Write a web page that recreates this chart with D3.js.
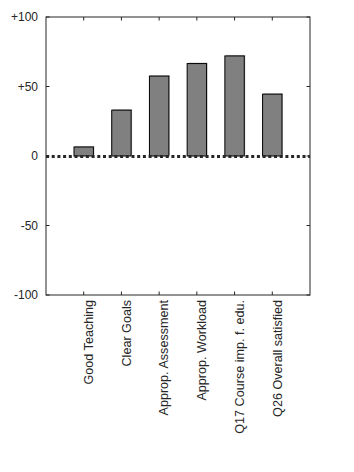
<!DOCTYPE html>
<html>
<head>
<meta charset="utf-8">
<script src="https://cdn.jsdelivr.net/npm/d3@7"></script>
<style>
  body { margin: 0; background: #fff; }
  svg text { font-family: "Liberation Sans", Arial, sans-serif; fill: #262626; }
</style>
</head>
<body>
<svg id="chart" width="354" height="472"></svg>
<script>
// Data
var categories = ["Good Teaching", "Clear Goals", "Approp. Assessment", "Approp. Workload", "Q17 Course imp. f. edu.", "Q26 Overall satisfied"]
var values = [6.5, 33, 57.5, 66.5, 72, 44.5]
var yTicks = [-100, -50, 0, 50, 100]
var yTickLabels = ["-100", "-50", "0", "+50", "+100"]

var svg = d3.select("#chart")
var plotLeft = 46, plotRight = 310, plotTop = 17, plotBottom = 295

// bars sit at positions 1..6 of a 0..7 axis
var x = d3.scaleLinear().domain([0, categories.length + 1]).range([plotLeft, plotRight])
var y = d3.scaleLinear().domain([-100, 100]).range([plotBottom, plotTop])
var step = x(1) - x(0)
var barW = step * 0.515

var g = svg.append("g")

// bars, with a faint light edge like the original
g.selectAll(".shade")
  .data(values)
  .enter().append("rect")
  .attr("x", (d, i) => x(i + 1) - barW / 2 + 1)
  .attr("y", d => y(d) - 1)
  .attr("width", barW)
  .attr("height", d => y(0) - y(d))
  .attr("fill", "#c4c4c4")

g.selectAll(".bar")
  .data(values)
  .enter().append("rect")
  .attr("x", (d, i) => x(i + 1) - barW / 2)
  .attr("y", d => y(d))
  .attr("width", barW)
  .attr("height", d => y(0) - y(d))
  .attr("fill", "#808080")
  .attr("stroke", "#000")
  .attr("stroke-width", 1)

// zero line
g.append("line")
  .attr("x1", plotLeft).attr("x2", plotRight)
  .attr("y1", y(0) + 0.5).attr("y2", y(0) + 0.5)
  .attr("stroke", "#262626")
  .attr("stroke-width", 3)
  .attr("stroke-dasharray", "3,2.7")

// frame
g.append("rect")
  .attr("x", plotLeft).attr("y", plotTop)
  .attr("width", plotRight - plotLeft).attr("height", plotBottom - plotTop)
  .attr("fill", "none")
  .attr("stroke", "#262626")
  .attr("stroke-width", 1)

// ticks pointing inward on all four sides
var tl = 3.5
categories.forEach((c, i) => {
  var px = x(i + 1)
  g.append("line").attr("x1", px).attr("x2", px).attr("y1", plotBottom).attr("y2", plotBottom - tl).attr("stroke", "#262626")
  g.append("line").attr("x1", px).attr("x2", px).attr("y1", plotTop).attr("y2", plotTop + tl).attr("stroke", "#262626")
})
yTicks.forEach(t => {
  var py = y(t)
  g.append("line").attr("x1", plotLeft).attr("x2", plotLeft + tl).attr("y1", py).attr("y2", py).attr("stroke", "#262626")
  g.append("line").attr("x1", plotRight).attr("x2", plotRight - tl).attr("y1", py).attr("y2", py).attr("stroke", "#262626")
})

// y labels
g.selectAll(".ylab")
  .data(yTicks)
  .enter().append("text")
  .attr("x", plotLeft - 8)
  .attr("y", d => y(d))
  .attr("dy", "0.36em")
  .attr("text-anchor", "end")
  .style("font-size", "12px")
  .text((d, i) => yTickLabels[i])

// rotated category labels
g.selectAll(".xlab")
  .data(categories)
  .enter().append("text")
  .attr("transform", (d, i) => "translate(" + x(i + 1) + "," + (plotBottom + 5) + ") rotate(-90)")
  .attr("x", 0)
  .attr("y", 9.3)
  .attr("text-anchor", "end")
  .style("font-size", "12.6px")
  .text(d => d)
</script>
</body>
</html>
